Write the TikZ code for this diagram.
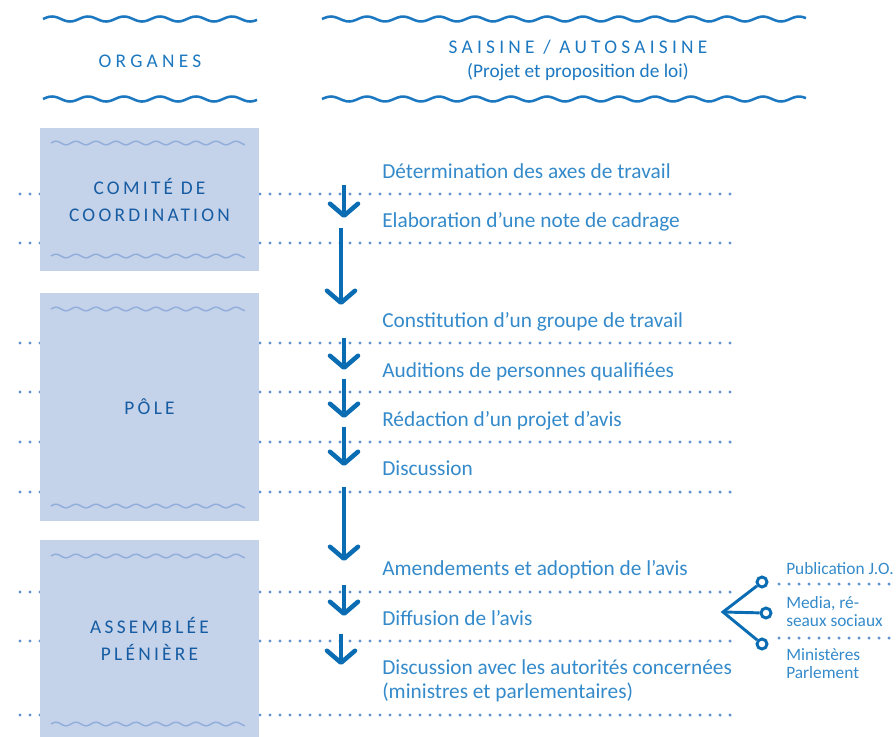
\documentclass[tikz,border=0pt]{standalone}
\usepackage{fontspec}
\setmainfont{Carlito}
\newfontfamily\spacedfont[LetterSpace=22]{Carlito}
\newfontfamily\organfont[LetterSpace=17]{Carlito}
\usetikzlibrary{arrows.meta}

\definecolor{stepblue}{RGB}{52,138,202}
\definecolor{titleblue}{RGB}{22,92,162}
\definecolor{arrowblue}{RGB}{10,109,180}
\definecolor{waveblue}{RGB}{28,120,192}
\definecolor{organfill}{RGB}{196,210,234}
\definecolor{innerwave}{RGB}{146,174,219}
\definecolor{dotblue}{RGB}{96,146,206}

\tikzset{
  steptext/.style={anchor=base west, inner sep=0pt, text=stepblue, font=\fontsize{16}{18}\selectfont, align=left},
  sidetext/.style={anchor=base west, inner sep=0pt, text=stepblue, font=\fontsize{13}{13.5}\selectfont, align=left},
  headtext/.style={inner sep=0pt, text=waveblue, align=center},
  organ/.style={fill=organfill, draw=none, minimum width=164.25pt, text=titleblue, align=center, font=\organfont\fontsize{14.5}{20.25}\selectfont},
  dotline/.style={draw=dotblue, line width=2.6pt, line cap=round, dash pattern=on 0pt off 7.5pt},
  flow/.style={draw=arrowblue, line width=3.4pt, -{Straight Barb[length=9pt,width=21pt,line cap=round,line join=round]}},
  pindot/.style={circle, draw=arrowblue, fill=white, line width=2.2pt, minimum size=7.5pt, inner sep=0pt},
  fork/.style={draw=arrowblue, line width=2.2pt}
}

% x1, x2, y, amplitude, degrees per px, style
\newcommand{\wavyline}[6]{\draw[#6] plot[domain=#1:#2, samples=160, smooth] (\x, {#3-#4*sin(#5*(\x-#1))});}

\begin{document}
\begin{tikzpicture}[x=0.75pt,y=0.75pt,yscale=-1,xscale=1]
\useasboundingbox (0,0) rectangle (896,736);
\clip (0,0) rectangle (896,736);

%Header waves
\wavyline{43}{257}{19}{2.5}{10}{waveblue, line width=1.9pt}
\wavyline{43}{257}{99}{2.5}{10}{waveblue, line width=1.9pt}
\wavyline{322}{806}{19}{2.5}{10}{waveblue, line width=1.9pt}
\wavyline{322}{806}{99}{2.5}{10}{waveblue, line width=1.9pt}

% Text Node
\node [headtext, font=\spacedfont\fontsize{14.5}{18}\selectfont] (organes) at (150,61) {ORGANES};
\node [headtext, font=\spacedfont\fontsize{14.5}{18}\selectfont] (saisine) at (578,47) {SAISINE / AUTOSAISINE};
\node [headtext, font=\fontsize{14.5}{18}\selectfont] (projet) at (578,72) {(Projet et proposition de loi)};

%Dotted rows
\foreach \y in {194,243,343,392,442,492,592,641,715} {
  \draw [dotline] (20,\y) -- (738,\y);
}
\draw [dotline] (779,584) -- (896,584);
\draw [dotline] (779,638) -- (896,638);

%Shape: organ boxes
\node [organ, minimum height=107.25pt] (comite) at (149.5,199.5) {COMITÉ DE\\COORDINATION};
\node [organ, minimum height=171pt] (pole) at (149.5,407) {PÔLE};
\node [organ, minimum height=148.5pt] (assemblee) at (149.5,639) {ASSEMBLÉE\\PLÉNIÈRE};

%Inner waves
\foreach \y in {143,256,309,506,556,724} {
  \wavyline{51}{245}{\y}{1.8}{18}{innerwave, line width=1.1pt}
}

% Text Node
\node [steptext] (axes) at (382,178) {Détermination des axes de travail};
\node [steptext] (cadrage) at (382,227) {Elaboration d’une note de cadrage};
\node [steptext] (groupe) at (382,327) {Constitution d’un groupe de travail};
\node [steptext] (auditions) at (382,377) {Auditions de personnes qualifiées};
\node [steptext] (redaction) at (382,426) {Rédaction d’un projet d’avis};
\node [steptext] (discussion) at (382,475) {Discussion};
\node [steptext] (adoption) at (382,575) {Amendements et adoption de l’avis};
\node [steptext] (diffusion) at (382,625) {Diffusion de l’avis};
\node [steptext] (autorites) at (382,698) {Discussion avec les autorités concernées\\(ministres et parlementaires)};

%Arrows
\coordinate (a1) at (344,185); \coordinate (b1) at (344,218);
\coordinate (a2) at (341,228); \coordinate (b2) at (341,305);
\coordinate (a3) at (344,338); \coordinate (b3) at (344,370);
\coordinate (a4) at (344,379); \coordinate (b4) at (344,418);
\coordinate (a5) at (344,427); \coordinate (b5) at (344,466);
\coordinate (a6) at (344,487); \coordinate (b6) at (344,561);
\coordinate (a7) at (344,585); \coordinate (b7) at (344,616);
\coordinate (a8) at (341,634); \coordinate (b8) at (341,665);
\foreach \i in {1,...,8} {
  \draw [flow] (a\i) -- (b\i);
}

%Diffusion fork
\coordinate (fork) at (723,612);
\node [pindot] (jo) at (762,582) {};
\node [pindot] (media) at (766,613) {};
\node [pindot] (ministeres) at (762,644) {};
\draw [fork] (jo) -- (fork) -- (ministeres);
\draw [fork] (fork) -- (media);

% Text Node
\node [sidetext] (jotext) at (786,574) {Publication J.O.};
\node [sidetext] (mediatext) at (786,626) {Media, ré-\\seaux sociaux};
\node [sidetext] (ministerestext) at (786,678) {Ministères\\Parlement};

\end{tikzpicture}
\end{document}
